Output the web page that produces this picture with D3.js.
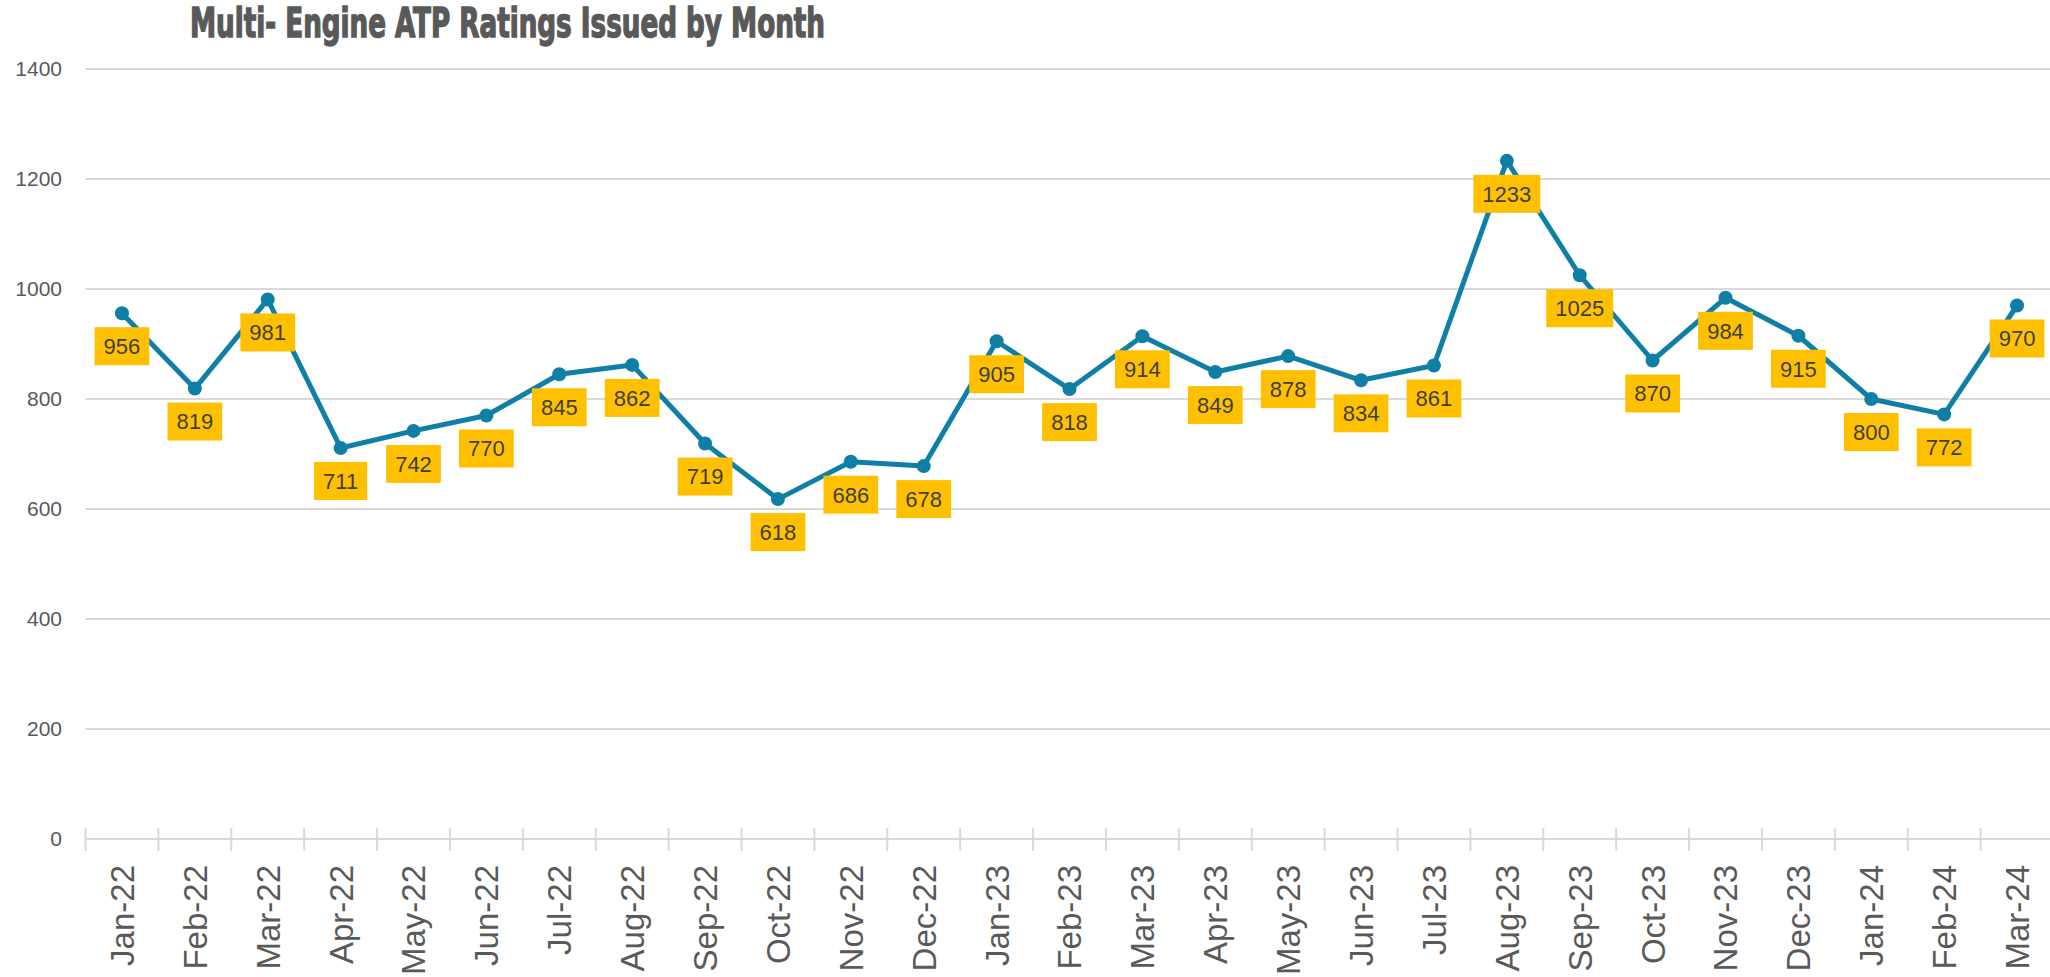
<!DOCTYPE html>
<html>
<head>
<meta charset="utf-8">
<script src="https://cdn.jsdelivr.net/npm/d3@7"></script>
<style>
  html, body { margin: 0; padding: 0; background: #fff; }
  svg { display: block; font-family: "Liberation Sans", Arial, sans-serif; }
</style>
</head>
<body>
<div id="chart"></div>
<script>
/* Chart data */
const months = [
  'Jan-22', 'Feb-22', 'Mar-22', 'Apr-22', 'May-22', 'Jun-22', 'Jul-22',
  'Aug-22', 'Sep-22', 'Oct-22', 'Nov-22', 'Dec-22',
  'Jan-23', 'Feb-23', 'Mar-23', 'Apr-23', 'May-23', 'Jun-23', 'Jul-23',
  'Aug-23', 'Sep-23', 'Oct-23', 'Nov-23', 'Dec-23',
  'Jan-24', 'Feb-24', 'Mar-24'
];
const ratings = [
  956, 819, 981, 711, 742, 770, 845, 862, 719, 618, 686, 678,
  905, 818, 914, 849, 878, 834, 861, 1233, 1025, 870, 984, 915,
  800, 772, 970
];
const yTicks = [0, 200, 400, 600, 800, 1000, 1200, 1400];
const title = 'Multi- Engine ATP Ratings Issued by Month';

const width = 2050;
const height = 977;

const lineColor = '#0f7fa5';
const gridColor = '#d9d9d9';
const labelFill = '#ffc000';

let svg = d3.select('#chart')
    .append('svg')
    .attr('width', width)
    .attr('height', height);

let x = d3.scaleBand()
    .domain(months)
    .range([85.5, 2053.5]);

let y = d3.scaleLinear()
    .domain([0, 1400])
    .range([839, 69]);

let cx = d => x(d) + x.bandwidth() / 2;

/* Title */
svg.append('text')
    .attr('x', 190)
    .attr('y', 37)
    .attr('textLength', 635)
    .attr('lengthAdjust', 'spacingAndGlyphs')
    .style('font-family', '"Liberation Sans Narrow", "DejaVu Sans Condensed", sans-serif')
    .style('font-weight', 'bold')
    .style('font-size', '40px')
    .attr('fill', '#595959')
    .attr('stroke', '#595959')
    .attr('stroke-width', 1.4)
    .text(title);

/* Gridlines */
svg.append('g')
    .selectAll('line')
    .data(yTicks.filter(t => t > 0))
    .join('line')
    .attr('x1', x.range()[0])
    .attr('x2', width)
    .attr('y1', d => y(d))
    .attr('y2', d => y(d))
    .attr('stroke', gridColor)
    .attr('stroke-width', 2);

/* Y axis labels */
let yAxis = svg.append('g')
    .attr('transform', 'translate(62,0)')
    .call(d3.axisLeft(y)
        .tickValues(yTicks)
        .tickFormat(d3.format('d'))
        .tickSize(0)
        .tickPadding(0));
yAxis.select('.domain').remove();
yAxis.selectAll('text')
    .style('font-size', '21px')
    .style('font-family', '"Liberation Sans", Arial, sans-serif')
    .attr('fill', '#595959');

/* X axis line and boundary ticks */
let xAxisG = svg.append('g');
xAxisG.append('line')
    .attr('x1', x.range()[0])
    .attr('x2', width)
    .attr('y1', y(0))
    .attr('y2', y(0))
    .attr('stroke', gridColor)
    .attr('stroke-width', 2);
xAxisG.selectAll('line.tick')
    .data(months)
    .join('line')
    .attr('class', 'tick')
    .attr('x1', d => x(d))
    .attr('x2', d => x(d))
    .attr('y1', y(0) - 11)
    .attr('y2', y(0) + 12)
    .attr('stroke', gridColor)
    .attr('stroke-width', 2);

/* X axis labels, rotated */
let xAxis = svg.append('g')
    .attr('transform', `translate(0,${y(0)})`)
    .call(d3.axisBottom(x).tickSize(0));
xAxis.select('.domain').remove();
xAxis.selectAll('text')
    .style('font-size', '33px')
    .style('font-family', '"Liberation Sans", Arial, sans-serif')
    .attr('fill', '#595959')
    .attr('text-anchor', 'end')
    .attr('transform', 'translate(0,26) rotate(-90)')
    .attr('x', 0)
    .attr('y', 0)
    .attr('dy', '0.36em');

/* Line and markers */
let line = d3.line()
    .x((d, i) => cx(months[i]))
    .y(d => y(d));

svg.append('path')
    .datum(ratings)
    .attr('d', line)
    .attr('fill', 'none')
    .attr('stroke', lineColor)
    .attr('stroke-width', 5)
    .attr('stroke-linejoin', 'round');

svg.append('g')
    .selectAll('circle')
    .data(ratings)
    .join('circle')
    .attr('cx', (d, i) => cx(months[i]))
    .attr('cy', d => y(d))
    .attr('r', 7)
    .attr('fill', lineColor);

/* Data labels, placed below each point */
let labels = svg.append('g')
    .selectAll('g')
    .data(ratings)
    .join('g')
    .attr('transform', (d, i) => `translate(${cx(months[i])},${y(d) + 33})`);

labels.append('text')
    .attr('text-anchor', 'middle')
    .attr('dy', '0.36em')
    .style('font-size', '22px')
    .attr('fill', '#404040')
    .text(d => d);

labels.insert('rect', 'text')
    .each(function() {
      let w = d3.select(this.parentNode).select('text').node()
          .getComputedTextLength() + 18;
      d3.select(this)
          .attr('x', -w / 2)
          .attr('y', -19)
          .attr('width', w)
          .attr('height', 38);
    })
    .attr('fill', labelFill);
</script>
</body>
</html>
